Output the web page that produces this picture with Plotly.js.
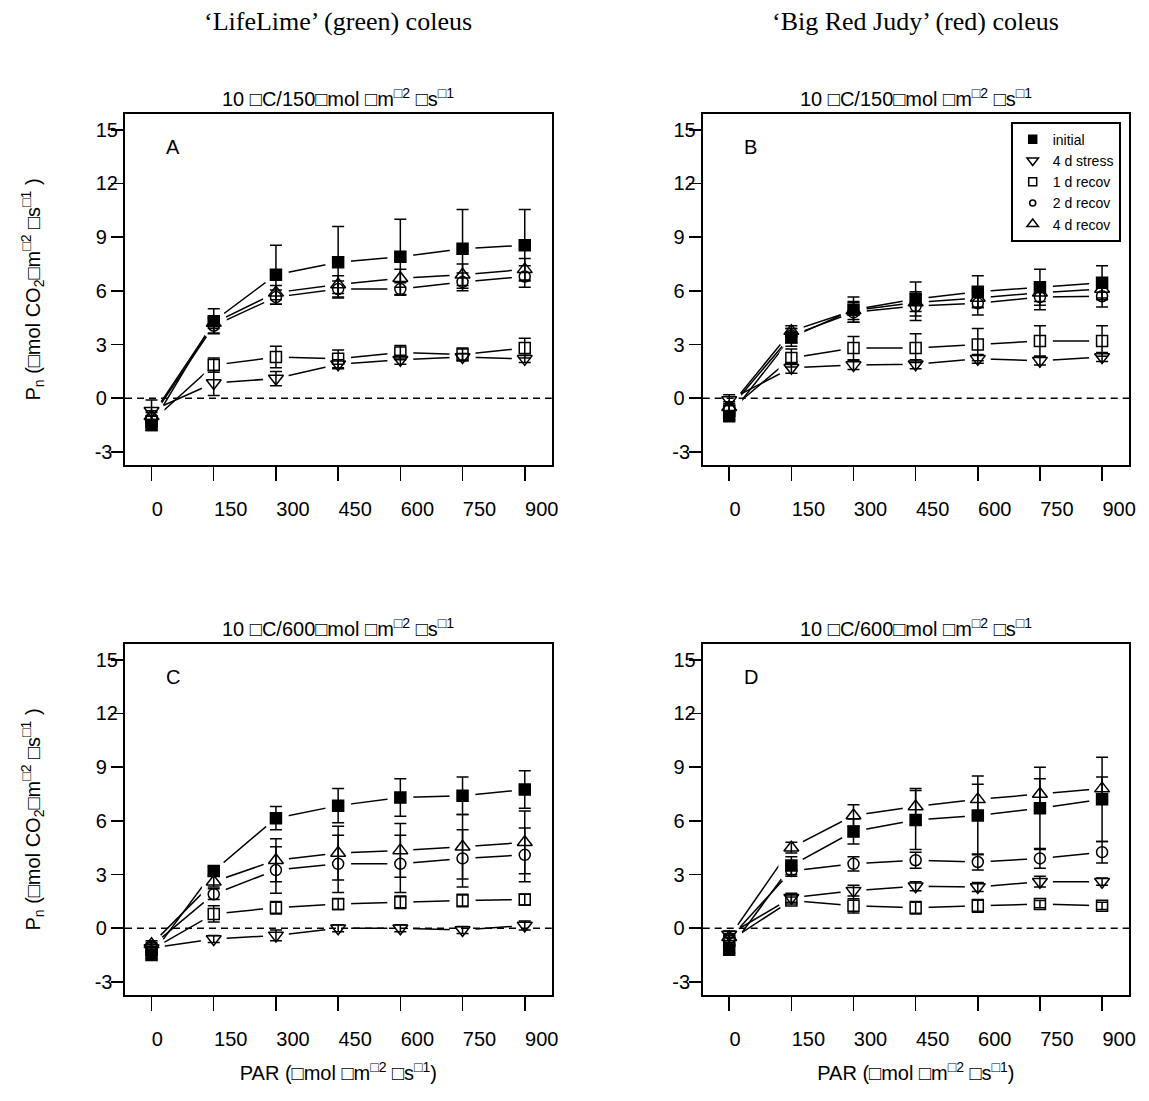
<!DOCTYPE html>
<html>
<head>
<meta charset="utf-8">
<script src="https://cdn.plot.ly/plotly-3.0.1.min.js"></script>
<style>html,body{margin:0;padding:0;background:#fff;}#chart{width:1149px;height:1101px;}</style>
</head>
<body>
<div id="chart"></div>
<script>
// ---------------- data ----------------
const PAR = [0, 150, 300, 450, 600, 750, 900];
const PAR_TICKS = [0, 150, 300, 450, 600, 750, 900];
const PAR_LABELS = ["0\u00a0\u00a0\u00a0\u00a0", "150", "300", "450", "600", "750", "900"];
const PN_TICKS = [-3, 0, 3, 6, 9, 12, 15];
const PN_LABELS = ["-3\u00a0", "0\u00a0\u00a0", "3\u00a0\u00a0", "6\u00a0\u00a0", "9\u00a0\u00a0", "12", "15"];
const SERIES_NAMES = ["initial", "4 d stress", "1 d recov", "2 d recov", "4 d recov"];

// Panel A: 'LifeLime', 10 C / 150
const A_initial = [-1.5, 4.3, 6.9, 7.6, 7.9, 8.35, 8.55];
const A_initial_err = [0.3, 0.7, 1.65, 2.0, 2.1, 2.2, 2.0];
const A_stress = [-0.7, 0.85, 1.1, 1.9, 2.15, 2.3, 2.2];
const A_stress_err = [0.6, 0.7, 0.4, 0.25, 0.25, 0.2, 0.2];
const A_rec1 = [-1.3, 1.85, 2.3, 2.2, 2.55, 2.45, 2.8];
const A_rec1_err = [0.3, 0.4, 0.6, 0.5, 0.4, 0.35, 0.55];
const A_rec2 = [-1.1, 4.05, 5.65, 6.1, 6.1, 6.5, 6.8];
const A_rec2_err = [0.3, 0.4, 0.4, 0.45, 0.35, 0.5, 0.6];
const A_rec4 = [-1.0, 4.2, 5.9, 6.35, 6.7, 6.9, 7.2];
const A_rec4_err = [0.3, 0.3, 0.4, 0.5, 0.5, 0.6, 0.6];

// Panel B: 'Big Red Judy', 10 C / 150
const B_initial = [-1.0, 3.4, 4.95, 5.55, 5.95, 6.2, 6.45];
const B_initial_err = [0.2, 0.5, 0.7, 0.95, 0.9, 1.0, 0.95];
const B_stress = [-0.1, 1.7, 1.85, 1.9, 2.2, 2.1, 2.3];
const B_stress_err = [0.3, 0.3, 0.25, 0.25, 0.25, 0.25, 0.25];
const B_rec1 = [-0.7, 2.25, 2.8, 2.8, 3.0, 3.2, 3.2];
const B_rec1_err = [0.3, 0.5, 0.65, 0.8, 0.9, 0.85, 0.85];
const B_rec2 = [-0.6, 3.5, 4.8, 5.15, 5.3, 5.65, 5.7];
const B_rec2_err = [0.3, 0.4, 0.55, 0.8, 0.65, 0.7, 0.6];
const B_rec4 = [-0.5, 3.75, 4.9, 5.35, 5.6, 5.9, 6.1];
const B_rec4_err = [0.3, 0.3, 0.5, 0.5, 0.5, 0.5, 0.5];

// Panel C: 'LifeLime', 10 C / 600
const C_initial = [-1.5, 3.2, 6.15, 6.85, 7.3, 7.4, 7.75];
const C_initial_err = [0.2, 0.2, 0.65, 0.95, 1.05, 1.05, 1.05];
const C_stress = [-1.1, -0.6, -0.4, 0.0, 0.0, -0.1, 0.15];
const C_stress_err = [0.2, 0.2, 0.3, 0.2, 0.2, 0.2, 0.25];
const C_rec1 = [-1.2, 0.8, 1.15, 1.35, 1.45, 1.55, 1.6];
const C_rec1_err = [0.2, 0.45, 0.35, 0.3, 0.35, 0.35, 0.3];
const C_rec2 = [-1.0, 1.9, 3.25, 3.6, 3.6, 3.9, 4.1];
const C_rec2_err = [0.2, 0.3, 1.3, 1.6, 1.6, 1.6, 1.5];
const C_rec4 = [-0.9, 2.6, 3.8, 4.2, 4.35, 4.55, 4.8];
const C_rec4_err = [0.2, 0.3, 1.2, 1.5, 1.5, 1.8, 1.75];

// Panel D: 'Big Red Judy', 10 C / 600
const D_initial = [-1.2, 3.5, 5.4, 6.05, 6.3, 6.7, 7.2];
const D_initial_err = [0.2, 0.5, 0.7, 1.65, 2.2, 2.3, 2.35];
const D_stress = [-0.35, 1.7, 2.1, 2.35, 2.3, 2.6, 2.6];
const D_stress_err = [0.2, 0.25, 0.3, 0.25, 0.25, 0.3, 0.2];
const D_rec1 = [-0.7, 1.55, 1.25, 1.15, 1.25, 1.35, 1.25];
const D_rec1_err = [0.2, 0.2, 0.4, 0.35, 0.35, 0.2, 0.2];
const D_rec2 = [-0.6, 3.2, 3.6, 3.8, 3.7, 3.9, 4.25];
const D_rec2_err = [0.2, 0.3, 0.4, 0.45, 0.45, 0.55, 0.6];
const D_rec4 = [-0.5, 4.5, 6.3, 6.8, 7.2, 7.5, 7.8];
const D_rec4_err = [0.2, 0.3, 0.6, 1.0, 0.85, 0.85, 0.65];

const COL_TITLES = ["\u2018LifeLime\u2019 (green) coleus", "\u2018Big Red Judy\u2019 (red) coleus"];
const PANEL_TITLES = [
  "10 \u25a1C/150\u25a1mol \u25a1m<sup>\u25a12</sup> \u25a1s<sup>\u25a11</sup>",
  "10 \u25a1C/150\u25a1mol \u25a1m<sup>\u25a12</sup> \u25a1s<sup>\u25a11</sup>",
  "10 \u25a1C/600\u25a1mol \u25a1m<sup>\u25a12</sup> \u25a1s<sup>\u25a11</sup>",
  "10 \u25a1C/600\u25a1mol \u25a1m<sup>\u25a12</sup> \u25a1s<sup>\u25a11</sup>"
];
const PANEL_LETTERS = ["A", "B", "C", "D"];
const Y_TITLE = "P<sub>n</sub> (\u25a1mol CO<sub>2</sub>\u25a1m<sup>\u25a12</sup> \u25a1s<sup>\u25a11</sup> )";
const X_TITLE = "PAR (\u25a1mol \u25a1m<sup>\u25a12</sup> \u25a1s<sup>\u25a11</sup>)";

// ---------------- styling ----------------
const FONT = "Liberation Sans, Arial, sans-serif";
const SERIF = "Liberation Serif, Times New Roman, serif";
const STYLES = [
  {symbol: "square", size: 11, legSize: 8},
  {symbol: "triangle-down-open", size: 13, legSize: 10},
  {symbol: "square-open", size: 11, legSize: 8},
  {symbol: "circle-open", size: 11, legSize: 6},
  {symbol: "triangle-up-open", size: 13, legSize: 10}
];

const panels = [
  {ax: "", data: [[A_initial, A_initial_err], [A_stress, A_stress_err], [A_rec1, A_rec1_err], [A_rec2, A_rec2_err], [A_rec4, A_rec4_err]]},
  {ax: "2", data: [[B_initial, B_initial_err], [B_stress, B_stress_err], [B_rec1, B_rec1_err], [B_rec2, B_rec2_err], [B_rec4, B_rec4_err]]},
  {ax: "3", data: [[C_initial, C_initial_err], [C_stress, C_stress_err], [C_rec1, C_rec1_err], [C_rec2, C_rec2_err], [C_rec4, C_rec4_err]]},
  {ax: "4", data: [[D_initial, D_initial_err], [D_stress, D_stress_err], [D_rec1, D_rec1_err], [D_rec2, D_rec2_err], [D_rec4, D_rec4_err]]}
];

const traces = [];
panels.forEach(p => {
  const xa = "x" + p.ax, ya = "y" + p.ax;
  p.data.forEach(d => traces.push({x: PAR, y: d[0], xaxis: xa, yaxis: ya, mode: "lines",
    line: {color: "black", width: 1.5}, showlegend: false, hoverinfo: "skip"}));
  p.data.forEach(d => traces.push({x: PAR, y: d[0], xaxis: xa, yaxis: ya, mode: "markers",
    marker: {symbol: "circle", size: 26, color: "white", line: {width: 0}}, showlegend: false, hoverinfo: "skip"}));
  p.data.forEach((d, i) => traces.push({x: PAR, y: d[0], xaxis: xa, yaxis: ya, mode: "markers",
    name: SERIES_NAMES[i], showlegend: false,
    marker: {symbol: STYLES[i].symbol, size: STYLES[i].size, color: "black", line: {color: "black", width: 1.5}},
    error_y: {type: "data", array: d[1], visible: true, color: "black", thickness: 1.5, width: 6}}));
});
// legend entries (panel B)
SERIES_NAMES.forEach((n, i) => traces.push({x: [null], y: [null], xaxis: "x2", yaxis: "y2", mode: "markers", name: n,
  showlegend: true, marker: {symbol: STYLES[i].symbol, size: STYLES[i].legSize, color: "black", line: {color: "black", width: 1.5}}}));

const W = 1149, H = 1101;
const XD = [[125 / W, 551.7 / W], [702.7 / W, 1129 / W]];
const YD = [[(H - 465) / H, (H - 114) / H], [(H - 995) / H, (H - 644) / H]];

function xaxis(dom, anchor, title) {
  const a = {domain: dom, anchor: anchor, range: [-64, 965], tickmode: "array", tickvals: PAR_TICKS, ticktext: PAR_LABELS,
    ticks: "outside", ticklen: 14, tickwidth: 1.5, tickcolor: "black", showline: true, linewidth: 2, linecolor: "black",
    mirror: true, showgrid: false, zeroline: false, tickfont: {family: FONT, size: 20, color: "black"},
    ticklabelshift: 17, ticklabelstandoff: 11, fixedrange: true};
  if (title) a.title = {text: X_TITLE, font: {family: FONT, size: 20, color: "black"}, standoff: 17};
  return a;
}
function yaxis(dom, anchor, title) {
  const a = {domain: dom, anchor: anchor, range: [-3.73, 15.88], tickmode: "array", tickvals: PN_TICKS, ticktext: PN_LABELS,
    ticks: "outside", ticklen: 12, tickwidth: 1.5, tickcolor: "black", showline: true, linewidth: 2, linecolor: "black",
    mirror: true, showgrid: false, zeroline: false, tickfont: {family: FONT, size: 20, color: "black"},
    ticklabelstandoff: -11, fixedrange: true};
  if (title) a.title = {text: Y_TITLE, font: {family: FONT, size: 20, color: "black"}, standoff: 49};
  return a;
}

const annotations = [];
COL_TITLES.forEach((t, i) => annotations.push({text: t, xref: "paper", yref: "paper",
  x: (XD[i][0] + XD[i][1]) / 2, y: (H - 22) / H, xanchor: "center", yanchor: "middle", showarrow: false,
  font: {family: SERIF, size: 26, color: "black"}}));
["", "2", "3", "4"].forEach((ax, i) => {
  annotations.push({text: PANEL_TITLES[i], xref: "x" + ax + " domain", yref: "y" + ax + " domain", x: 0.5, y: 1,
    xanchor: "center", yanchor: "bottom", yshift: 2, showarrow: false, font: {family: FONT, size: 20, color: "black"}});
  annotations.push({text: PANEL_LETTERS[i], xref: "x" + ax + " domain", yref: "y" + ax + " domain", x: 0.1125, y: 0.905,
    xanchor: "center", yanchor: "middle", showarrow: false, font: {family: FONT, size: 20, color: "black"}});
});

const shapes = ["", "2", "3", "4"].map(ax => ({type: "line", xref: "x" + ax + " domain", yref: "y" + ax,
  x0: 0, x1: 1, y0: 0, y1: 0, layer: "above", line: {color: "black", width: 1.5, dash: "7px,5px"}}));

const layout = {
  width: W, height: H, margin: {l: 0, r: 0, t: 0, b: 0}, paper_bgcolor: "white", plot_bgcolor: "white",
  font: {family: FONT, color: "black"},
  showlegend: true,
  legend: {x: 1120.7 / W, y: (H - 121.7) / H, xanchor: "right", yanchor: "top", bordercolor: "black", borderwidth: 2,
    bgcolor: "white", font: {family: FONT, size: 14, color: "black"}, itemwidth: 30, tracegroupgap: 0},
  xaxis: xaxis(XD[0], "y", false), yaxis: yaxis(YD[0], "x", true),
  xaxis2: xaxis(XD[1], "y2", false), yaxis2: yaxis(YD[0], "x2", false),
  xaxis3: xaxis(XD[0], "y3", true), yaxis3: yaxis(YD[1], "x3", true),
  xaxis4: xaxis(XD[1], "y4", true), yaxis4: yaxis(YD[1], "x4", false),
  annotations: annotations, shapes: shapes
};

Plotly.newPlot("chart", traces, layout, {staticPlot: true, displayModeBar: false});
</script>
</body>
</html>
